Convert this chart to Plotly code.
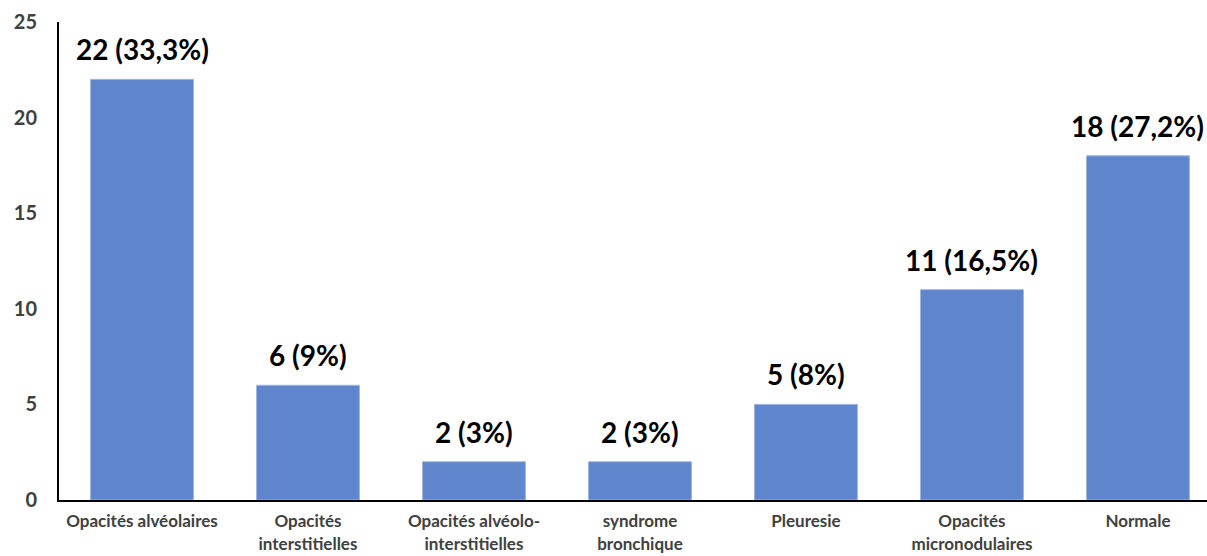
import plotly.graph_objects as go

# Radiological findings: counts and shares
categories = [
    "Opacités alvéolaires",
    "Opacités<br>interstitielles",
    "Opacités alvéolo-<br>interstitielles",
    "syndrome<br>bronchique",
    "Pleuresie",
    "Opacités<br>micronodulaires",
    "Normale",
]
counts = [22, 6, 2, 2, 5, 11, 18]
percents = ["33,3%", "9%", "3%", "3%", "8%", "16,5%", "27,2%"]
y_ticks = [0, 5, 10, 15, 20, 25]

labels = [f"{c} ({p})" for c, p in zip(counts, percents)]
xpos = list(range(len(categories)))

FONT = "Lato, 'Open Sans', sans-serif"

fig = go.Figure(
    go.Bar(
        x=xpos,
        y=counts,
        marker=dict(color="#5f86cc", line=dict(color="#9db5e3", width=1)),
        width=0.62,
        cliponaxis=False,
    )
)

# value labels above each bar
for x, y, t in zip(xpos, counts, labels):
    fig.add_annotation(
        x=x, y=y, text=t, showarrow=False,
        xanchor="center", yanchor="bottom", yshift=11,
        font=dict(family=FONT, size=28, color="#000000", weight="bold"),
    )

fig.update_layout(
    width=1207,
    height=556,
    margin=dict(l=59, r=0, t=22, b=56),
    paper_bgcolor="white",
    plot_bgcolor="white",
    showlegend=False,
    font=dict(family=FONT, color="#404040"),
)

fig.update_xaxes(
    tickmode="array",
    tickvals=xpos,
    ticktext=categories,
    tickfont=dict(family=FONT, size=17, color="#404040", weight="bold"),
    range=[-0.5, 6.416],
    showline=True,
    linecolor="#000000",
    linewidth=2,
    showgrid=False,
    ticks="",
    zeroline=False,
    ticklabelstandoff=5,
    automargin=False,
)

fig.update_yaxes(
    range=[0, 25],
    tickmode="array",
    tickvals=y_ticks,
    tickfont=dict(family=FONT, size=20, color="#404040", weight="bold"),
    showline=True,
    linecolor="#000000",
    linewidth=2,
    showgrid=False,
    zeroline=False,
    ticks="",
    ticklabelstandoff=16,
    automargin=False,
)

fig.write_html("out.html")
